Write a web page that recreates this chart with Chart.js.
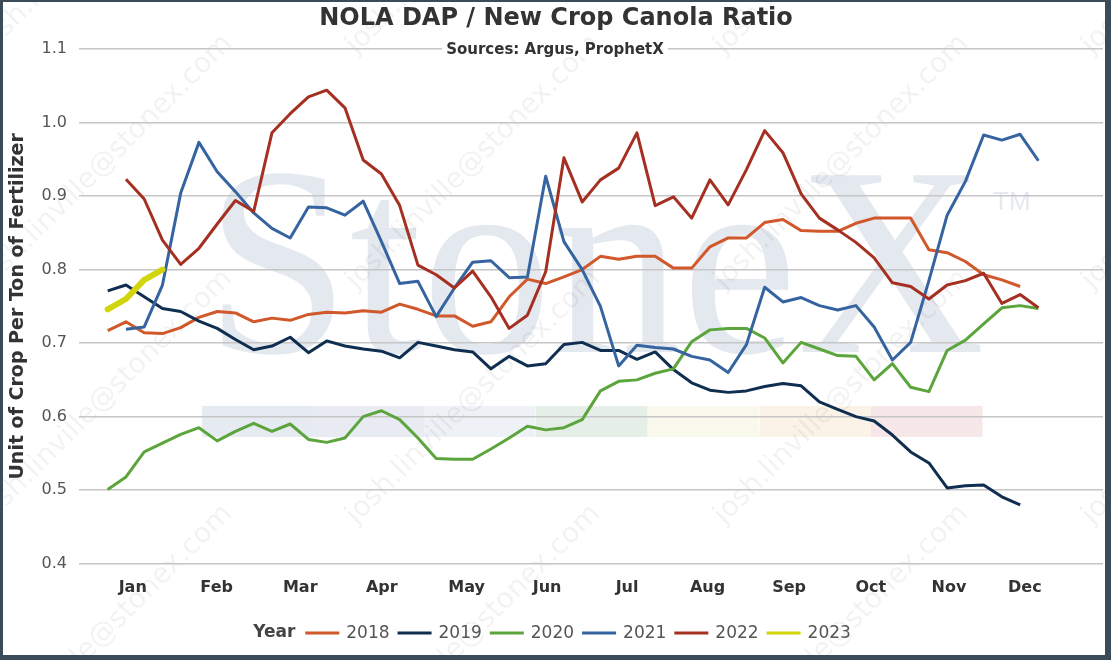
<!DOCTYPE html>
<html>
<head>
<meta charset="utf-8">
<script src="https://cdn.jsdelivr.net/npm/chart.js@4.4.0/dist/chart.umd.min.js"></script>
<style>
  html, body { margin: 0; padding: 0; background: #fff; }
  #wrap { position: relative; width: 1111px; height: 660px; }
</style>
</head>
<body>
<div id="wrap"><canvas id="myChart"></canvas></div>
<script>
// weekly ratio values, one list per year
const years = ["2018", "2019", "2020", "2021", "2022", "2023"];
const firstWeek = [0, 0, 0, 1, 1, 0];

const vals2018 = [0.717, 0.729, 0.714, 0.713, 0.721, 0.735, 0.743, 0.741, 0.729, 0.734,
  0.731, 0.739, 0.742, 0.741, 0.744, 0.742, 0.753, 0.746, 0.737, 0.737,
  0.723, 0.729, 0.763, 0.787, 0.781, 0.790, 0.800, 0.818, 0.814, 0.818,
  0.818, 0.802, 0.802, 0.831, 0.843, 0.843, 0.864, 0.868, 0.853, 0.852,
  0.852, 0.863, 0.870, 0.870, 0.870, 0.827, 0.823, 0.811, 0.793, 0.786, 0.777];
const vals2019 = [0.771, 0.779, 0.763, 0.747, 0.743, 0.730, 0.720, 0.705, 0.691, 0.696,
  0.708, 0.687, 0.703, 0.696, 0.692, 0.689, 0.680, 0.701, 0.696, 0.691,
  0.688, 0.665, 0.682, 0.669, 0.672, 0.698, 0.701, 0.690, 0.690, 0.678,
  0.688, 0.664, 0.646, 0.636, 0.633, 0.635, 0.641, 0.645, 0.642, 0.620,
  0.610, 0.600, 0.594, 0.575, 0.552, 0.537, 0.503, 0.506, 0.507, 0.491, 0.480];
const vals2020 = [0.501, 0.518, 0.552, 0.564, 0.576, 0.585, 0.567, 0.580, 0.591, 0.580,
  0.590, 0.569, 0.565, 0.571, 0.600, 0.608, 0.596, 0.571, 0.543, 0.542,
  0.542, 0.556, 0.571, 0.587, 0.582, 0.585, 0.596, 0.635, 0.648, 0.650,
  0.659, 0.665, 0.702, 0.718, 0.720, 0.720, 0.707, 0.673, 0.701, 0.692,
  0.683, 0.682, 0.650, 0.672, 0.640, 0.634, 0.690, 0.704, 0.726, 0.748, 0.751, 0.747];
const vals2021 = [0.719, 0.722, 0.779, 0.904, 0.973, 0.933, 0.906, 0.877, 0.856, 0.843,
  0.885, 0.884, 0.874, 0.893, 0.838, 0.781, 0.784, 0.736, 0.775, 0.810,
  0.812, 0.789, 0.790, 0.927, 0.838, 0.800, 0.750, 0.669, 0.697, 0.694,
  0.692, 0.682, 0.677, 0.660, 0.698, 0.776, 0.756, 0.762, 0.751, 0.745,
  0.751, 0.722, 0.677, 0.701, 0.785, 0.874, 0.920, 0.983, 0.976, 0.984, 0.948];
const vals2022 = [0.923, 0.896, 0.840, 0.807, 0.829, 0.862, 0.894, 0.879, 0.986, 1.012,
  1.035, 1.044, 1.020, 0.949, 0.930, 0.887, 0.806, 0.793, 0.775, 0.798,
  0.763, 0.720, 0.738, 0.797, 0.952, 0.892, 0.922, 0.938, 0.986, 0.887,
  0.899, 0.870, 0.922, 0.888, 0.936, 0.989, 0.959, 0.903, 0.870, 0.854,
  0.837, 0.816, 0.782, 0.777, 0.760, 0.779, 0.785, 0.795, 0.754, 0.766, 0.748];
const vals2023 = [0.746, 0.760, 0.786, 0.800];

const monthLabels = ["Jan", "Feb", "Mar", "Apr", "May", "Jun", "Jul", "Aug", "Sep", "Oct", "Nov", "Dec"];
const monthWeeks = [1.37, 5.97, 10.55, 15.02, 19.67, 24.08, 28.46, 32.87, 37.34, 41.82, 46.1, 50.26];
const yTicks = [0.4, 0.5, 0.6, 0.7, 0.8, 0.9, 1.0, 1.1];

const allVals = [vals2018, vals2019, vals2020, vals2021, vals2022, vals2023];
const colors = ["#d0582a", "#102f50", "#5ca53d", "#3564a0", "#a53022", "#d2d40c"];

const FONT = '"DejaVu Sans", Verdana, sans-serif';

// background: white, StoneX logo watermark, email watermark
const backdrop = {
    id: "backdrop",
    beforeDraw(chart) {
        const ctx = chart.ctx;
        ctx.save();
        ctx.textBaseline = "alphabetic";
        ctx.textAlign = "left";
        ctx.fillStyle = "#fff";
        ctx.fillRect(0, 0, chart.width, chart.height);

        ctx.font = '270px "Liberation Serif", serif';
        const w = ctx.measureText("StoneX").width;
        ctx.fillStyle = "#e4e8ef";
        ctx.save();
        ctx.translate(205, 352);
        ctx.scale(780 / w, 1);
        ctx.fillText("StoneX", 0, 0);
        ctx.restore();
        ctx.font = '26px "Liberation Sans", sans-serif';
        ctx.fillText("TM", 993, 210);

        const bands = [
            [202, "#e6eaf1"], [313, "#e8ecf2"], [424, "#eef2f7"], [536, "#e6eee8"],
            [648, "#f9f9ed"], [760, "#fcf3e8"], [871, "#f8e7e9"],
        ];
        bands.forEach(([x, c]) => {
            ctx.fillStyle = c;
            ctx.fillRect(x, 406, 111.5, 31);
        });

        ctx.font = "28px " + FONT;
        ctx.fillStyle = "rgba(0,0,0,0.05)";
        for (let i = 0; i < 4; i++) {
            for (let j = 0; j < 4; j++) {
                ctx.save();
                ctx.translate(-12 + 368 * i, 55 + 235 * j);
                ctx.rotate(-Math.PI / 4);
                ctx.fillText("josh.linville@stonex.com", 0, 0);
                ctx.restore();
            }
        }
        ctx.restore();
    },
    afterDraw(chart) {
        const ctx = chart.ctx;
        ctx.save();
        ctx.textBaseline = "middle";
        ctx.textAlign = "center";
        ctx.fillStyle = "#333";
        ctx.font = "bold 24px " + FONT;
        ctx.fillText("NOLA DAP / New Crop Canola Ratio", 556, 18.5);

        ctx.font = "bold 15px " + FONT;
        const sub = "Sources: Argus, ProphetX";
        const sw = ctx.measureText(sub).width;
        ctx.fillStyle = "#fff";
        ctx.fillRect(555 - sw / 2 - 4, 42, sw + 8, 15);
        ctx.fillStyle = "#333";
        ctx.fillText(sub, 555, 50);

        // legend
        ctx.textAlign = "left";
        const ly = 633;
        ctx.font = "bold 17px " + FONT;
        const yearW = ctx.measureText("Year").width;
        ctx.font = "17px " + FONT;
        let total = yearW + 10;
        chart.data.datasets.forEach(ds => {
            total += 34 + 7 + ctx.measureText(ds.label).width + 8;
        });
        let x = 552 - (total - 8) / 2;
        ctx.font = "bold 17px " + FONT;
        ctx.fillStyle = "#444";
        ctx.fillText("Year", x, ly);
        x += yearW + 10;
        ctx.font = "17px " + FONT;
        chart.data.datasets.forEach(ds => {
            ctx.strokeStyle = ds.borderColor;
            ctx.lineWidth = 3;
            ctx.beginPath();
            ctx.moveTo(x, ly);
            ctx.lineTo(x + 34, ly);
            ctx.stroke();
            x += 34 + 7;
            ctx.fillStyle = "#555";
            ctx.fillText(ds.label, x, ly + 1);
            x += ctx.measureText(ds.label).width + 8;
        });

        // frame
        ctx.fillStyle = "#3b4c58";
        ctx.fillRect(0, 0, chart.width, 2);
        ctx.fillRect(0, 0, 3, chart.height);
        ctx.fillRect(chart.width - 6, 0, 6, chart.height);
        ctx.fillRect(0, chart.height - 5, chart.width, 5);
        ctx.restore();
    }
};

const datasets = years.map((yr, i) => ({
    label: yr,
    data: allVals[i].map((v, j) => ({ x: firstWeek[i] + j, y: v })),
    borderColor: colors[i],
    backgroundColor: colors[i],
    borderWidth: yr === "2023" ? 6 : 3,
    borderCapStyle: yr === "2023" ? "round" : "butt",
    borderJoinStyle: "round",
    pointRadius: 0,
    tension: 0,
    order: years.length - i,
}));

let ctx = document.getElementById("myChart");
let myChart = new Chart(ctx, {
    type: "line",
    data: { datasets: datasets },
    options: {
        responsive: true,
        maintainAspectRatio: false,
        animation: false,
        layout: { padding: { top: 49, right: 8, left: 0, bottom: 0 } },
        plugins: {
            legend: { display: false },
            tooltip: { enabled: false },
            title: { display: false },
        },
        scales: {
            x: {
                type: "linear",
                min: -1.573,
                max: 54.54,
                grid: { display: false },
                border: { display: false },
                afterBuildTicks: (s) => {
                    s.ticks = monthWeeks.map(v => ({ value: v }));
                },
                afterFit: (s) => { s.height = 96.3; },
                ticks: {
                    autoSkip: false,
                    maxRotation: 0,
                    padding: 7,
                    color: "#333",
                    font: { family: FONT, size: 16, weight: "bold" },
                    callback: (v, i) => monthLabels[i],
                },
            },
            y: {
                min: 0.4,
                max: 1.1,
                afterBuildTicks: (s) => {
                    s.ticks = yTicks.map(v => ({ value: v }));
                },
                afterFit: (s) => { s.width = 79; },
                grid: { color: "#c6c6c6", lineWidth: 1.5, drawTicks: false },
                border: { display: false },
                ticks: {
                    padding: 12,
                    color: "#555",
                    font: { family: FONT, size: 16 },
                    callback: (v) => v.toFixed(1),
                },
                title: {
                    display: true,
                    text: "Unit of Crop Per Ton of Fertilizer",
                    color: "#333",
                    font: { family: FONT, size: 19, weight: "bold" },
                    padding: { top: 7, bottom: 0 },
                },
            },
        },
    },
    plugins: [backdrop],
});
</script>
</body>
</html>
